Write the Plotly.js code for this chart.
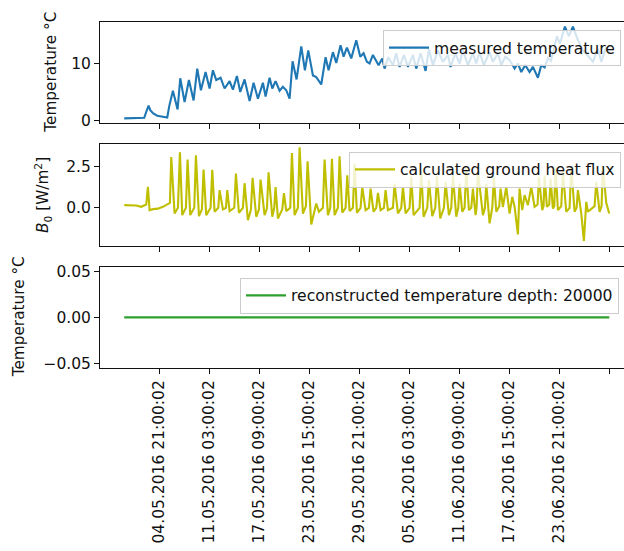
<!DOCTYPE html>
<html>
<head>
<meta charset="utf-8">
<script src="https://cdn.plot.ly/plotly-3.0.1.min.js"></script>
<style>
  html, body { margin: 0; padding: 0; overflow: hidden; background: #fff; }
  #chart { width: 624px; height: 551px; }
</style>
</head>
<body>
<div id="chart"></div>
<script>
// Hours since the first sample of the record
const tempHours = [0, 21, 51, 60, 66, 73, 78, 87, 99, 111, 120, 129, 135, 146, 160, 168, 181, 194, 208, 219,
  230, 244, 256, 266, 276, 289, 301, 316, 326, 338, 348, 361, 376, 388, 401, 416, 424, 436, 444, 454,
  466, 476, 486, 496, 505, 517, 531, 542, 552, 566, 576, 591, 604, 613, 626, 636, 649, 658, 668, 681,
  696, 708, 718, 728, 736, 746, 763, 774, 781, 792, 806, 816, 826, 839, 851, 866, 876, 889, 904, 914,
  926, 941, 956, 971, 979, 993, 1006, 1016, 1031, 1046, 1056, 1066, 1079, 1096, 1106, 1121, 1131, 1143, 1156, 1171,
  1181, 1191, 1203, 1216, 1226, 1241, 1251, 1261, 1271, 1280, 1289, 1298, 1307, 1322, 1334, 1346, 1359, 1374, 1389, 1406,
  1421, 1431, 1446, 1455];
// Measured soil temperature, degC
const tempValues = [0.35, 0.35, 0.4, 0.45, 1.5, 2.6, 1.8, 1.2, 0.8, 0.7, 0.6, 0.5, 2.5, 5.2, 1.9, 7.4, 3.2, 7.1, 3.5, 9.1,
  5.3, 8.5, 5.6, 8.8, 7.1, 7.5, 5.6, 6.9, 5.4, 7.8, 5.0, 7.2, 3.4, 6.6, 3.8, 6.6, 4.2, 7.5, 5.6, 6.9,
  5.2, 5.9, 5.3, 3.8, 10.4, 7.2, 13.0, 8.8, 12.3, 7.9, 7.6, 6.3, 11.1, 8.8, 12.0, 10.1, 13.2, 11.2, 12.8, 10.9,
  14.1, 11.2, 11.8, 10.3, 10.0, 11.5, 9.7, 10.9, 9.1, 11.1, 9.7, 11.8, 9.4, 11.5, 9.4, 11.5, 9.1, 11.8, 8.7, 12.5,
  9.7, 12.3, 10.3, 11.5, 9.4, 11.8, 10.0, 12.3, 9.7, 11.8, 10.0, 12.0, 9.7, 12.0, 10.3, 11.8, 9.7, 11.2, 10.6, 9.1,
  10.0, 8.5, 9.7, 8.5, 9.4, 7.5, 9.7, 9.3, 11.0, 10.5, 12.5, 14.8, 13.5, 16.5, 14.8, 16.5, 14.4, 12.5, 11.5, 10.3,
  12.6, 10.3, 12.9, 11.8];

const fluxHours = [0, 36, 51, 61, 66, 71, 76, 87, 101, 116, 126, 130, 137, 141, 151, 161, 167, 174, 185, 190,
  198, 210, 215, 224, 233, 238, 246, 259, 264, 271, 282, 286, 296, 305, 309, 316, 330, 335, 344, 356,
  361, 371, 380, 385, 396, 404, 409, 421, 428, 433, 444, 450, 454, 461, 474, 479, 486, 498, 503, 511,
  521, 526, 536, 545, 550, 561, 576, 584, 596, 601, 611, 618, 623, 631, 641, 646, 654, 664, 669, 676,
  686, 691, 698, 709, 714, 724, 734, 739, 748, 756, 761, 769, 779, 784, 791, 806, 811, 821, 831, 836,
  844, 856, 861, 868, 886, 891, 898, 909, 914, 924, 933, 938, 948, 959, 964, 974, 981, 986, 996, 1002,
  1006, 1014, 1021, 1026, 1034, 1041, 1046, 1054, 1057, 1061, 1076, 1082, 1086, 1096, 1104, 1109, 1116, 1125, 1129, 1136,
  1146, 1156, 1164, 1171, 1181, 1186, 1194, 1201, 1211, 1221, 1231, 1240, 1244, 1254, 1258, 1261, 1268, 1275, 1279, 1286,
  1290, 1294, 1301, 1311, 1316, 1326, 1336, 1341, 1351, 1357, 1361, 1371, 1379, 1386, 1391, 1411, 1416, 1426, 1432, 1436,
  1446, 1455];
// Calculated ground heat flux B0, W/m^2
const fluxValues = [0.16, 0.14, 0.06, 0.14, 0.2, 1.26, -0.14, -0.08, -0.05, 0.06, 0.16, 0.2, 0.3, 3.06, -0.34, 0.0, 3.34, -0.44, 0.0, 2.9,
  -0.44, 0.0, 3.16, -0.5, -0.1, 2.3, -0.45, 0.0, 2.28, -0.24, 0.0, 1.06, -0.1, 0.0, 1.06, -0.2, 0.0, 2.06, -0.3, 0.0,
  1.48, -0.75, -0.1, 1.8, -0.54, -0.1, 1.7, -0.44, -0.05, 2.13, -0.54, 0.0, 1.24, -0.64, -0.1, 0.88, -0.2, 0.0, 3.3, -0.44,
  0.0, 3.64, -0.35, 0.1, 2.8, -1.0, 0.26, -0.24, 0.0, 2.9, -0.44, 0.0, 2.95, -0.44, 0.0, 3.1, -0.3, 0.0, 1.96, -0.2,
  0.0, 2.66, -0.3, 0.0, 1.26, -0.14, 0.0, 1.16, -0.24, 0.0, 0.9, -0.14, 0.0, 1.06, -0.14, 0.0, 1.46, -0.34, 0.0, 1.26,
  -0.34, 0.0, 1.86, -0.44, 0.0, 2.26, -0.54, 0.0, 1.66, -0.5, 0.0, 1.9, -0.64, 0.0, 1.56, -0.44, 0.0, 1.96, -0.54, 0.0,
  1.46, -0.24, 0.0, 2.36, -0.14, 0.0, 1.16, -0.44, 0.0, 2.2, -0.44, 0.0, 1.46, -0.94, 0.0, 1.86, -0.24, 0.1, 1.16, 0.05,
  1.26, -0.35, 0.66, 0.06, -1.6, 1.16, -0.14, 0.76, 0.16, 1.26, 0.06, 0.2, 1.86, -0.14, 0.1, 1.96, 0.06, 0.2, 1.76, -0.05,
  0.1, 2.4, -0.14, 0.1, 2.2, -0.24, 0.0, 2.46, -0.24, 0.0, 1.06, -0.34, -2.0, 0.36, -0.24, 0.1, 1.56, -0.24, 0.1, 2.5,
  0.3, -0.34];

// Reconstructed temperature at 20000 depth
const reconHours = [0, 1455];
const reconValues = [0, 0];

// Tick positions (hours) and their timestamps
const tickHours = [105, 255, 405, 555, 705, 855, 1005, 1155, 1305, 1455];
const tickLabels = ['04.05.2016 21:00:02', '11.05.2016 03:00:02', '17.05.2016 09:00:02',
  '23.05.2016 15:00:02', '29.05.2016 21:00:02', '05.06.2016 03:00:02', '11.06.2016 09:00:02',
  '17.06.2016 15:00:02', '23.06.2016 21:00:02', ''];

const FONT = 'DejaVu Sans, Verdana, sans-serif';
const TICK_FS = 15.5;
const LEGEND_FS = 15.6;
const TITLE_FS = 15.3;
const INK = '#111';
const PLOT_W = 524;

const traces = [
  { x: tempHours, y: tempValues, xaxis: 'x', yaxis: 'y', type: 'scatter', mode: 'lines',
    name: 'measured temperature', line: { color: '#1f77b4', width: 2.1 }, legend: 'legend' },
  { x: fluxHours, y: fluxValues, xaxis: 'x2', yaxis: 'y2', type: 'scatter', mode: 'lines',
    name: 'calculated ground heat flux', line: { color: '#bfbf00', width: 2.1 }, legend: 'legend2' },
  { x: reconHours, y: reconValues, xaxis: 'x3', yaxis: 'y3', type: 'scatter', mode: 'lines',
    name: 'reconstructed temperature depth: 20000', line: { color: '#2ca02c', width: 2.1 }, legend: 'legend3' }
];

// The axes run past the right edge of the figure, so no right-hand spine is drawn.
function xAxis(anchor, labels) {
  return {
    anchor: anchor, range: [-72.75, 1499.25], showgrid: false, zeroline: false,
    showline: true, mirror: true, linecolor: INK, linewidth: 1,
    ticks: 'outside', ticklen: 5, tickwidth: 1, tickcolor: INK,
    tickmode: 'array', tickvals: tickHours, ticktext: tickLabels,
    showticklabels: labels, tickangle: -90,
    tickfont: { family: FONT, size: TICK_FS, color: INK }
  };
}
function yAxis(anchor, domain, range, vals, fmt) {
  return {
    anchor: anchor, domain: domain, range: range, showgrid: false, zeroline: false,
    showline: true, mirror: false, linecolor: INK, linewidth: 1,
    ticks: 'outside', ticklen: 5, tickwidth: 1, tickcolor: INK,
    tickmode: 'array', tickvals: vals, tickformat: fmt,
    tickfont: { family: FONT, size: TICK_FS, color: INK }
  };
}
function legendBox(xpx, y) {
  return {
    x: (xpx - 100) / PLOT_W, y: y, xanchor: 'left', yanchor: 'top', xref: 'paper', yref: 'paper',
    bgcolor: 'rgba(255,255,255,0.8)', bordercolor: '#cccccc', borderwidth: 1,
    itemwidth: 40,
    font: { family: FONT, size: LEGEND_FS, color: INK }
  };
}
function yTitle(text, xpx, ymid) {
  return {
    text: text, xref: 'paper', yref: 'paper', x: (xpx - 100) / PLOT_W, y: ymid,
    xanchor: 'center', yanchor: 'middle', textangle: -90, showarrow: false,
    font: { family: FONT, size: TITLE_FS, color: INK }
  };
}

const layout = {
  width: 624, height: 551,
  margin: { l: 100, r: 0, t: 22, b: 182.5 },
  paper_bgcolor: '#fff', plot_bgcolor: '#fff',
  font: { family: FONT, size: TICK_FS, color: INK },
  showlegend: true,
  xaxis: xAxis('y', false),
  xaxis2: xAxis('y2', false),
  xaxis3: xAxis('y3', true),
  yaxis: yAxis('x', [0.7071, 1], [-0.53, 17.3], [0, 10], 'd'),
  yaxis2: yAxis('x2', [0.3535, 0.6465], [-2.28, 3.82], [0, 2.5], '.1f'),
  yaxis3: yAxis('x3', [0, 0.2929], [-0.055, 0.055], [-0.05, 0, 0.05], '.2f'),
  legend: legendBox(383, 0.977),
  legend2: legendBox(349, 0.625),
  legend3: legendBox(240, 0.261),
  annotations: [
    yTitle('Temperature °C', 51, 0.8535),
    yTitle('<i>B</i><sub>0</sub> [W/m<sup>2</sup>]', 43, 0.5),
    yTitle('Temperature °C', 19, 0.1465)
  ]
};

Plotly.newPlot('chart', traces, layout, { displayModeBar: false, staticPlot: true });
</script>
</body>
</html>
